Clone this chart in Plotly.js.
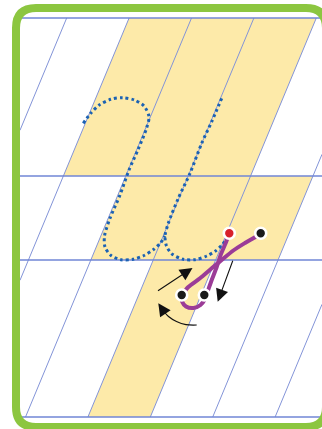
<!DOCTYPE html>
<html><head><meta charset="utf-8">
<script src="https://cdn.plot.ly/plotly-3.0.1.min.js"></script>
<style>html,body{margin:0;padding:0;background:#fff;}#chart{width:322px;height:429px;}</style>
</head><body><div id="chart"></div>
<script>
// Guide geometry (page-pixel data units)
const slope = 0.416;               // x shift per unit y of slanted guides
const frameLeft = 20, frameRight = 322;
const ruleRows = [18, 176, 260, 417];          // horizontal ruling
const slantOffsets = [66.7, 129.1, 191.5, 253.9, 316.3, 378.7, 441.1]; // x of slanted guides at top rule
// Shaded (yellow) bands: one per zone
const bandTop    = [18, 176, 260];
const bandBottom = [176, 260, 417];
const bandLeft   = [129.1, 191.5, 253.9];
const bandRight  = [316.3, 378.7, 316.3];
// Dotted tracing strokes
const traceAX = [83.3, 90.7, 99.3, 110.7, 122.7, 134.3, 144, 149, 146.7, 138.3, 129, 120, 110, 104.5, 105, 111, 121, 133, 144, 153.5, 160.5, 165];
const traceAY = [123.3, 113.3, 105, 99.3, 97.7, 100, 106, 116.7, 127.7, 149, 170, 195, 218.3, 236, 247, 255.5, 259.7, 259.3, 255.5, 249.5, 243, 236];
const traceBX = [221.7, 211.7, 201.7, 190, 178.3, 168.3, 165, 166.5, 172, 183.3, 195, 206.7, 215.5, 221.5, 225];
const traceBY = [98.3, 121.7, 143.3, 173.3, 198.3, 223.3, 236, 246, 254, 259.3, 259.7, 256, 251, 245.5, 241];
// Purple model strokes
const strokeAX = [229.3, 225.7, 221, 216.7, 211.7, 207.8, 205, 200.5, 193.5, 186, 182.3, 181.7];
const strokeAY = [233.3, 243, 254, 267, 280, 291, 299, 305, 308, 306.5, 302, 295];
const strokeBX = [260.7, 256.7, 245, 233.3, 221.7, 211.7, 200, 188.3, 181.7];
const strokeBY = [233.3, 236.2, 243, 250.5, 260, 268.3, 278.3, 287, 295];
// Start / end points
const dotX = [260.7, 181.7, 204.3];
const dotY = [233.3, 295, 295];
const startX = [229.3], startY = [233.3];
// Direction arrows: [tailX, tailY, tipX, tipY]
const arrowTailX = [156.5, 233.3, 163.5];
const arrowTailY = [291.7, 259.3, 311];
const arrowTipX  = [192.5, 217.7, 158.3];
const arrowTipY  = [268, 301.7, 303.3];
// Curved arrow body
const curveX = [196.7, 186, 176.5, 168.5, 163.5];
const curveY = [325, 324.6, 321.5, 316.5, 311];

const Y0 = ruleRows[0], Y1 = ruleRows[ruleRows.length - 1];
const traces = [];

// yellow bands
for (let i = 0; i < bandTop.length; i++) {
  const xa = y => -slope * (y - Y0);
  const t = bandTop[i], b = bandBottom[i];
  traces.push({
    type: 'scatter', mode: 'lines', fill: 'toself', fillcolor: '#fdeaa9',
    line: {width: 0, color: 'rgba(0,0,0,0)'}, hoverinfo: 'skip',
    x: [bandLeft[i] + xa(t), bandRight[i] + xa(t), bandRight[i] + xa(b), bandLeft[i] + xa(b), bandLeft[i] + xa(t)],
    y: [t, t, b, b, t]
  });
}
// slanted guides, clipped to the frame
const gx = [], gy = [];
slantOffsets.forEach(c => {
  const yAtL = Y0 + (c - frameLeft) / slope;
  const yAtR = Y0 + (c - frameRight) / slope;
  const ya = Math.max(Y0, yAtR), yb = Math.min(Y1, yAtL);
  if (yb > ya) {
    gx.push(c - slope * (ya - Y0), c - slope * (yb - Y0), null);
    gy.push(ya, yb, null);
  }
});
traces.push({type: 'scatter', mode: 'lines', x: gx, y: gy, line: {color: '#8394d8', width: 1}, hoverinfo: 'skip'});
// horizontal rules
const hx = [], hy = [];
ruleRows.forEach(r => { hx.push(frameLeft, frameRight, null); hy.push(r, r, null); });
traces.push({type: 'scatter', mode: 'lines', x: hx, y: hy, line: {color: '#7186d6', width: 1.3}, hoverinfo: 'skip'});
// dotted strokes
[[traceAX, traceAY], [traceBX, traceBY]].forEach(([x, y]) => traces.push({
  type: 'scatter', mode: 'lines', x, y, hoverinfo: 'skip',
  line: {color: '#1b62b3', width: 3, dash: '2.8px,3px', shape: 'spline', smoothing: 0.8}
}));
// purple strokes
[[strokeAX, strokeAY], [strokeBX, strokeBY]].forEach(([x, y]) => traces.push({
  type: 'scatter', mode: 'lines', x, y, hoverinfo: 'skip',
  line: {color: '#9b3c97', width: 4, shape: 'spline', smoothing: 0.8}
}));
// curved arrow body
traces.push({type: 'scatter', mode: 'lines', x: curveX, y: curveY, hoverinfo: 'skip',
  line: {color: '#111', width: 1.2, shape: 'spline'}});
// dots
traces.push({type: 'scatter', mode: 'markers', x: dotX, y: dotY, hoverinfo: 'skip',
  marker: {size: 11, color: '#1a1a1a', line: {color: '#fff', width: 2.6}}});
traces.push({type: 'scatter', mode: 'markers', x: startX, y: startY, hoverinfo: 'skip',
  marker: {size: 11, color: '#d7212b', line: {color: '#fff', width: 2.6}}});

const annotations = arrowTipX.map((tx, i) => ({
  x: tx, y: arrowTipY[i], ax: arrowTailX[i], ay: arrowTailY[i],
  xref: 'x', yref: 'y', axref: 'x', ayref: 'y', text: '', showarrow: true,
  arrowhead: 2, arrowsize: 2.3, arrowwidth: 1.1, arrowcolor: '#111', standoff: 0, startstandoff: 0
}));

// frame
const fx0 = 16, fx1 = 326, fy0 = 8, fy1 = 427, rr = 20;
const framePath = `M${fx0 + rr},${fy0} L${fx1 - rr},${fy0} Q${fx1},${fy0} ${fx1},${fy0 + rr} L${fx1},${fy1 - rr} Q${fx1},${fy1} ${fx1 - rr},${fy1} L${fx0 + rr},${fy1} Q${fx0},${fy1} ${fx0},${fy1 - rr} L${fx0},${fy0 + rr} Q${fx0},${fy0} ${fx0 + rr},${fy0} Z`;

const layout = {
  width: 322, height: 429, margin: {l: 0, r: 0, t: 0, b: 0},
  paper_bgcolor: '#fff', plot_bgcolor: '#fff', showlegend: false,
  xaxis: {range: [0, 322], visible: false, fixedrange: true},
  yaxis: {range: [429, 0], visible: false, fixedrange: true},
  shapes: [{type: 'path', path: framePath, xref: 'x', yref: 'y', line: {color: '#8cc640', width: 8}, layer: 'above'}],
  annotations
};
Plotly.newPlot('chart', traces, layout, {staticPlot: true, displayModeBar: false});
</script></body></html>
